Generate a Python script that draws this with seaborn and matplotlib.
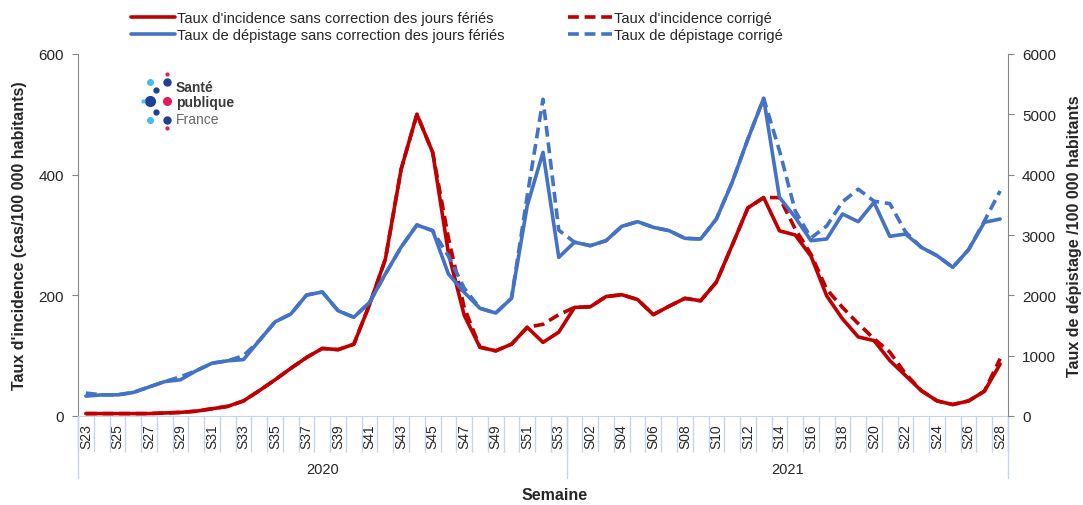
import numpy as np
import pandas as pd
import matplotlib
matplotlib.use("Agg")
import matplotlib.pyplot as plt
import matplotlib.transforms as mtransforms
from matplotlib.lines import Line2D
import seaborn as sns

# weeks: S23-S53 2020, S01-S28 2021
weeks_2020 = [f"S{w:02d}" for w in range(23, 54)]
weeks_2021 = [f"S{w:02d}" for w in range(1, 29)]
weeks = weeks_2020 + weeks_2021

incidence = [4, 4, 4, 4, 4, 5, 6, 8, 12, 16, 25, 42, 60, 79, 97, 112,
             110, 119, 185, 260, 409, 500, 437, 270, 167, 114, 108, 119, 147, 122, 139,
             180, 181, 198, 201, 193, 168, 182, 195, 191, 222, 283, 345, 362, 307, 300,
             265, 199, 161, 131, 125, 92, 67, 42, 25, 19, 25, 41, 86]
incidence_corr = [4, 4, 4, 4, 4, 5, 6, 8, 12, 16, 25, 42, 60, 79, 97, 112,
                  110, 119, 185, 260, 409, 500, 437, 295, 180, 114, 108, 119, 147, 152, 168,
                  180, 181, 198, 201, 193, 168, 182, 195, 191, 222, 283, 345, 362, 362, 310,
                  268, 210, 180, 153, 128, 106, 70, 42, 25, 19, 25, 41, 95]

depistage = [330, 350, 350, 390, 480, 570, 600, 750, 875, 915, 935, 1250, 1560, 1690, 2005,
             2055, 1745, 1636, 1885, 2354, 2800, 3166, 3072, 2354, 2050, 1785, 1707, 1950,
             3486, 4370, 2630,
             2880, 2823, 2906, 3144, 3221, 3127, 3072, 2945, 2934, 3265, 3873, 4591, 5265,
             3624, 3293, 2906, 2934, 3348, 3221, 3541, 2978, 3016, 2796, 2657, 2464, 2757,
             3210, 3265]
depistage_corr = [380, 350, 350, 390, 480, 570, 650, 750, 875, 915, 1000, 1250, 1560, 1690, 2005,
                  2055, 1745, 1636, 1885, 2354, 2800, 3166, 3072, 2650, 2120, 1785, 1707, 1950,
                  3650, 5250, 3080,
                  2880, 2823, 2906, 3144, 3221, 3127, 3072, 2945, 2934, 3265, 3873, 4591, 5265,
                  4400, 3400, 2950, 3150, 3550, 3760, 3560, 3520, 3050, 2796, 2657, 2464, 2757,
                  3230, 3730]

RED = "#C00000"
BLUE = "#4472C4"
SEP = "#c5d5ea"
GREY = "#868686"

df = pd.DataFrame({
    "pos": np.arange(len(weeks)),
    "semaine": weeks,
    "incidence": incidence,
    "incidence_corr": incidence_corr,
    "depistage": depistage,
    "depistage_corr": depistage_corr,
})

sns.set_style("white")
plt.rcParams["font.family"] = ["Liberation Sans", "DejaVu Sans"]

W, H = 1083, 506
fig, ax = plt.subplots(figsize=(W / 100, H / 100), dpi=100)
fig.subplots_adjust(left=78 / W, right=1008 / W, top=1 - 55 / H, bottom=1 - 417 / H)
ax2 = ax.twinx()

dash = (0, (3, 1.6))
lw = 2.6
sns.lineplot(data=df, x="pos", y="incidence_corr", ax=ax, color=RED, lw=lw, linestyle=dash)
sns.lineplot(data=df, x="pos", y="incidence", ax=ax, color=RED, lw=lw)
sns.lineplot(data=df, x="pos", y="depistage_corr", ax=ax2, color=BLUE, lw=lw, linestyle=dash)
sns.lineplot(data=df, x="pos", y="depistage", ax=ax2, color=BLUE, lw=lw)

# y axes
ax.set_ylim(0, 600)
ax.set_yticks([0, 200, 400, 600])
ax2.set_ylim(0, 6000)
ax2.set_yticks(range(0, 6001, 1000))
ax.set_ylabel("Taux d'incidence (cas/100 000 habitants)", fontsize=11.5, fontweight="bold", labelpad=8)
ax2.set_ylabel("Taux de dépistage /100 000 habitants", fontsize=11.5, fontweight="bold", labelpad=8)

for a in (ax, ax2):
    for s in a.spines.values():
        s.set_visible(False)
ax.spines["left"].set_visible(True)
ax.spines["left"].set_color(GREY)
ax.spines["bottom"].set_visible(True)
ax.spines["bottom"].set_color(SEP)
ax2.spines["right"].set_visible(True)
ax2.spines["right"].set_color(GREY)
ax.tick_params(axis="y", which="both", left=True, length=4, color=GREY, labelsize=11, pad=6)
ax2.tick_params(axis="y", which="both", right=True, length=4, color=GREY, labelsize=11, pad=6)

# x axis: week categories with separators
ax.set_xlim(-0.5, len(weeks) - 0.5)
ax.set_xticks(df["pos"][::2])
ax.set_xticklabels(df["semaine"][::2], rotation=90, fontsize=10)
ax.set_xticks(np.arange(-0.5, len(weeks), 1), minor=True)
ax.tick_params(axis="x", which="major", bottom=True, length=0, pad=5)
ax.tick_params(axis="x", which="minor", bottom=True, length=26, color=SEP, width=1)
ax.set_xlabel("")
ax2.set_xlabel("")

# year groups
trans = mtransforms.blended_transform_factory(ax.transData, ax.transAxes)
for xb in [-0.5, len(weeks_2020) - 0.5, len(weeks) - 0.5]:
    ax.add_line(Line2D([xb, xb], [0, -0.17], transform=trans, color=SEP, lw=1, clip_on=False))
ax.text((len(weeks_2020) - 1) / 2, -0.146, "2020", transform=trans, ha="center", va="center", fontsize=10.5)
ax.text(len(weeks_2020) + (len(weeks_2021) - 1) / 2, -0.146, "2021", transform=trans,
        ha="center", va="center", fontsize=10.5)
fig.text(555 / W, 1 - 496 / H, "Semaine", ha="center", va="center", fontsize=11.5, fontweight="bold")

# legend
handles = [
    Line2D([], [], color=RED, lw=lw),
    Line2D([], [], color=BLUE, lw=lw),
    Line2D([], [], color=RED, lw=lw, linestyle=dash),
    Line2D([], [], color=BLUE, lw=lw, linestyle=dash),
]
labels = [
    "Taux d'incidence sans correction des jours fériés",
    "Taux de dépistage sans correction des jours fériés",
    "Taux d'incidence corrigé",
    "Taux de dépistage corrigé",
]
fig.legend(handles, labels, ncol=2, loc="upper center", bbox_to_anchor=(457 / W, 1.003),
           frameon=False, fontsize=10.5, handlelength=3.0, handletextpad=0.15,
           columnspacing=4.4, labelspacing=0.25)

# logo
logo_dots = [(150, 83, 4, "#3fbfef"), (167, 83, 5, "#1f3f99"), (156, 91, 3.5, "#1f3f99"),
             (150, 102, 7, "#1f3f99"), (143, 102, 2, "#3fbfef"), (167, 102, 5.5, "#e5195c"),
             (156, 113, 3.5, "#1f3f99"), (150, 121, 4, "#3fbfef"), (167, 121, 5, "#1f3f99"),
             (167, 75, 2, "#e5195c"), (167, 129, 2, "#e5195c")]
for px, py, ms, c in logo_dots:
    fig.add_artist(Line2D([px / W], [1 - py / H], marker="o", ms=ms, color=c, lw=0,
                          transform=fig.transFigure))
fig.text(176 / W, 1 - 88 / H, "Santé", fontsize=10, fontweight="bold", color="#3a3a3a", va="center")
fig.text(176 / W, 1 - 103 / H, "publique", fontsize=10, fontweight="bold", color="#3a3a3a", va="center")
fig.text(176 / W, 1 - 120 / H, "France", fontsize=10, color="#6a6a6a", va="center")

fig.savefig("out.png", dpi=100)
